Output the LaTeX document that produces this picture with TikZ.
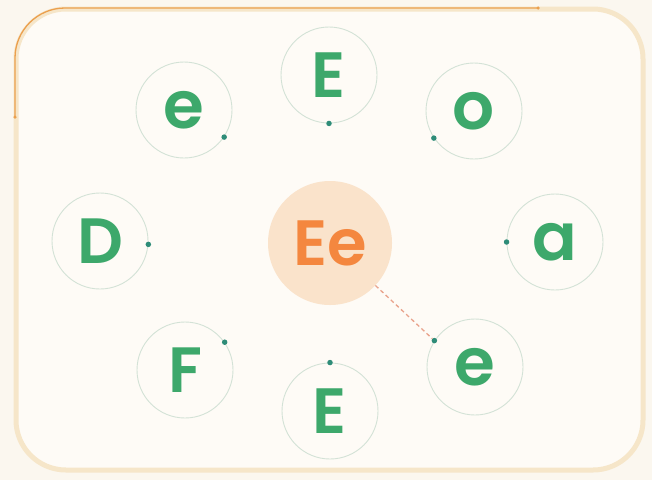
\documentclass[tikz,border=0pt]{standalone}
\usepackage{fontspec}
\setmainfont{Poppins}[BoldFont={Poppins SemiBold}]
\definecolor{outerbg}{HTML}{FBF7EF}
\definecolor{innerbg}{HTML}{FEFBF6}
\definecolor{creamc}{HTML}{F6E6C9}
\definecolor{orngline}{HTML}{EBA04E}
\definecolor{ringc}{HTML}{D3E2D6}
\definecolor{letg}{HTML}{3DA86B}
\definecolor{dotcol}{HTML}{2E8C78}
\definecolor{peach}{HTML}{FAE3CB}
\definecolor{ctext}{HTML}{F4873F}
\definecolor{dashc}{HTML}{E9A38C}
\begin{document}
\begin{tikzpicture}[x=1pt,y=-1pt,
  ring/.style={circle,draw=ringc,line width=0.9pt,minimum size=96pt,inner sep=0pt,
    font=\fontsize{64}{64}\selectfont\bfseries,text=letg},
  lowring/.style={ring,font=\fontsize{66}{66}\selectfont\bfseries},
  ringdot/.style={circle,fill=dotcol,inner sep=0pt,minimum size=5.5pt},
  enddot/.style={circle,fill=orngline,inner sep=0pt,minimum size=3.5pt}]
\useasboundingbox (0,0) rectangle (652,480);
\fill[outerbg] (0,0) rectangle (652,480);
\draw[creamc,line width=5pt,fill=innerbg,rounded corners=50pt] (16,9) rectangle (643,470);
% orange progress line
\coordinate (os) at (15,117);
\coordinate (oc) at (15,8);
\coordinate (oe) at (538,8);
\draw[orngline,line width=1.3pt,rounded corners=50pt] (os) -- (oc) -- (oe);
\node[enddot] at (os) {};
\node[enddot] at (oe) {};
% outer rings
\node[lowring] (n1) at (184,110) {e};
\node[ring]    (n2) at (329,75)  {E};
\node[lowring] (n3) at (474,111) {o};
\node[ring]    (n4) at (100,241) {D};
\node[lowring] (n5) at (555,242) {a};
\node[ring]    (n6) at (185,370) {F};
\node[ring]    (n7) at (330,411) {E};
\node[lowring] (n8) at (475,367) {e};
% centre
\node[circle,fill=peach,minimum size=124pt,inner sep=0pt,text=ctext,
  font=\fontsize{64}{64}\selectfont\bfseries] (c) at (330,243) {Ee};
% dots on rings
\node[ringdot] (d1) at (n1.-34)  {};
\node[ringdot] (d2) at (n2.-90)  {};
\node[ringdot] (d3) at (n3.-146) {};
\node[ringdot] (d4) at (n4.-4)   {};
\node[ringdot] (d5) at (n5.180)  {};
\node[ringdot] (d6) at (n6.35)   {};
\node[ringdot] (d7) at (n7.90)   {};
\node[ringdot] (d8) at (n8.147)  {};
% dashed connector
\draw[dashc,line width=1.3pt,dash pattern=on 4pt off 3pt] (c) -- (d8);
\end{tikzpicture}
\end{document}
